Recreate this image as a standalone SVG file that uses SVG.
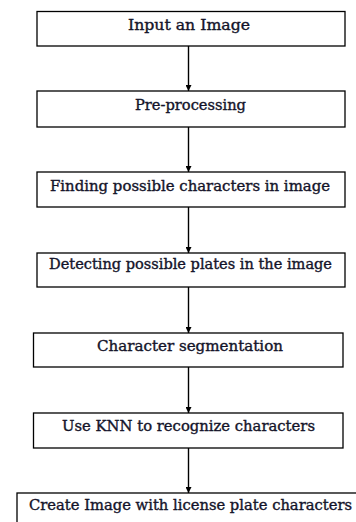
<svg xmlns="http://www.w3.org/2000/svg" width="356" height="522" viewBox="0 0 356 522">
  <style>
    .box { fill: #ffffff; stroke: #000000; stroke-width: 1.3; }
    .label { font-family: "DejaVu Serif", "Liberation Serif", serif; font-size: 14px; fill: #14142a; stroke: #14142a; stroke-width: 0.35; text-anchor: middle; }
    .edge { stroke: #000000; stroke-width: 1.4; fill: none; marker-end: url(#arrow); }
  </style>
  <defs>
    <marker id="arrow" viewBox="0 0 10 10" refX="10" refY="5" markerWidth="6" markerHeight="6" markerUnits="userSpaceOnUse" orient="auto">
      <path d="M0,0 L10,5 L0,10 Z" fill="#000000"/>
    </marker>
  </defs>
  <rect width="356" height="522" fill="#ffffff"/>

  <g id="connectors">
    <line class="edge" x1="188.5" y1="46" x2="188.5" y2="91"/>
    <line class="edge" x1="188.5" y1="127" x2="188.5" y2="172"/>
    <line class="edge" x1="188.5" y1="207" x2="188.5" y2="253"/>
    <line class="edge" x1="188.5" y1="287" x2="188.5" y2="333"/>
    <line class="edge" x1="188.5" y1="367" x2="188.5" y2="413"/>
    <line class="edge" x1="188.5" y1="448" x2="188.5" y2="493"/>
  </g>

  <g id="input-image">
    <rect class="box" x="37" y="11.5" width="308" height="34.5"/>
    <text class="label" x="189" y="29.5" textLength="122" lengthAdjust="spacingAndGlyphs">Input an Image</text>
  </g>

  <g id="pre-processing">
    <rect class="box" x="37" y="91" width="308" height="36"/>
    <text class="label" x="190.5" y="109.5" textLength="111" lengthAdjust="spacingAndGlyphs">Pre-processing</text>
  </g>

  <g id="find-characters">
    <rect class="box" x="37" y="172" width="308" height="35"/>
    <text class="label" x="190" y="191" textLength="280" lengthAdjust="spacingAndGlyphs">Finding possible characters in image</text>
  </g>

  <g id="detect-plates">
    <rect class="box" x="37" y="253" width="308" height="34"/>
    <text class="label" x="190.5" y="268.5" textLength="283" lengthAdjust="spacingAndGlyphs">Detecting possible plates in the image</text>
  </g>

  <g id="segmentation">
    <rect class="box" x="33.5" y="333" width="309.5" height="34"/>
    <text class="label" x="190" y="351" textLength="186" lengthAdjust="spacingAndGlyphs">Character segmentation</text>
  </g>

  <g id="knn-recognition">
    <rect class="box" x="33.5" y="413" width="309.5" height="35"/>
    <text class="label" x="188.5" y="431" textLength="253" lengthAdjust="spacingAndGlyphs">Use KNN to recognize characters</text>
  </g>

  <g id="output-image">
    <rect class="box" x="17" y="493" width="345" height="40"/>
    <text class="label" x="190.5" y="510" textLength="323" lengthAdjust="spacingAndGlyphs">Create Image with license plate characters</text>
  </g>
</svg>
